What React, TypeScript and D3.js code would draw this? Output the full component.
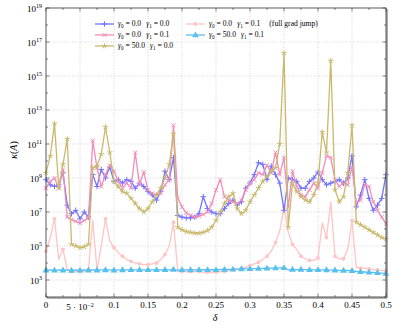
import * as d3 from "d3";
import { useEffect, useRef } from "react";

// delta grid, 81 points
const deltaValues = d3.range(81).map((i) => i * 0.00625);

// exponents (log10 of kappa(A))
const blueExp = [8.9,8.6,8.5,8.6,9.3,7.4,6.9,7.1,6.6,7.0,6.7,
  9.2,8.5,9.5,9.0,9.65,8.8,8.9,8.7,8.9,8.8,
  8.4,8.7,8.5,8.2,8.0,7.7,8.2,9.4,8.9,10.2,
  6.8,6.7,6.65,6.65,6.7,6.9,7.9,7.2,7.0,6.9,
  6.9,7.2,7.5,7.7,7.4,7.6,8.4,8.7,9.2,9.9,
  9.8,8.9,9.7,9.2,8.7,7.1,9.0,8.9,8.8,8.4,
  8.4,8.8,9.0,9.35,8.9,8.6,8.7,8.8,8.9,8.7,
  9.0,10.3,7.3,8.0,8.9,7.8,7.1,7.4,7.8,9.2];

const pinkExp = [8.4,8.8,9.0,8.4,9.5,6.7,6.55,6.45,6.35,6.5,6.65,
  11.2,9.6,8.5,9.2,9.75,9.4,8.8,8.4,8.7,8.4,
  10.5,8.6,9.35,8.3,8.1,8.0,8.1,8.6,8.9,12.1,
  7.8,7.3,6.95,6.8,6.7,6.75,6.85,7.0,7.5,8.3,
  8.9,7.9,7.7,7.6,7.5,7.7,8.3,8.7,8.9,9.3,
  9.2,9.75,9.3,10.5,9.2,10.2,7.3,9.4,8.5,8.0,
  7.9,8.3,8.7,8.4,9.3,10.3,10.2,8.9,8.5,8.7,
  8.6,9.65,7.5,7.7,8.6,8.5,7.6,7.1,6.7,6.3];

const oliveExp = [9.3,10.3,12.2,8.4,9.8,11.3,5.1,5.0,4.9,4.95,5.1,
  9.6,9.7,10.4,12.0,10.5,8.8,8.5,8.2,8.1,7.8,
  7.5,7.2,7.0,7.2,7.6,8.0,8.4,9.0,9.8,11.6,
  6.1,5.95,5.85,5.8,5.75,5.75,5.8,5.9,6.1,6.5,
  7.0,7.5,7.9,8.1,7.2,6.9,7.1,7.6,8.0,8.4,
  8.8,9.1,9.4,9.6,11.0,16.35,6.1,8.7,8.2,7.9,
  7.7,7.6,8.0,8.7,11.7,10.5,15.9,8.3,7.6,7.9,
  9.3,12.1,6.4,6.25,6.1,5.95,5.8,5.65,5.5,5.4];

const lightExp = [4.7,5.5,6.6,4.2,4.8,3.6,3.5,3.5,3.5,3.5,3.6,
  6.5,3.6,5.0,6.6,5.3,4.9,4.6,4.4,4.2,4.1,
  4.0,3.95,3.9,3.9,3.95,4.0,4.2,4.5,5.0,6.4,
  3.5,3.5,3.5,3.5,3.5,3.5,3.45,3.45,3.45,3.45,
  3.5,3.5,3.55,3.6,3.65,3.7,3.75,3.85,3.95,4.05,
  4.2,4.4,4.7,5.2,5.9,7.3,5.8,5.1,4.8,4.4,
  4.25,4.15,4.15,4.3,6.35,5.5,7.6,4.4,4.25,4.25,
  4.8,6.5,3.75,3.7,3.7,3.65,3.6,3.6,3.55,3.55];

const cyanExp = [3.58,3.6,3.57,3.6,3.58,3.6,3.56,3.6,3.57,3.6,3.58,
  3.6,3.58,3.6,3.59,3.6,3.58,3.6,3.59,3.6,3.6,
  3.59,3.6,3.6,3.6,3.59,3.6,3.6,3.61,3.6,3.62,
  3.58,3.6,3.6,3.59,3.6,3.6,3.61,3.6,3.61,3.6,
  3.62,3.62,3.63,3.63,3.64,3.65,3.65,3.66,3.67,3.67,
  3.68,3.69,3.7,3.7,3.71,3.72,3.6,3.62,3.61,3.62,
  3.61,3.6,3.6,3.6,3.6,3.59,3.58,3.58,3.57,3.56,
  3.56,3.55,3.5,3.48,3.47,3.45,3.44,3.42,3.4,3.38];

const xTicks = [0, 0.05, 0.1, 0.15, 0.2, 0.25, 0.3, 0.35, 0.4, 0.45, 0.5];
const xTickLabels = ["0", "5·10-2", "0.1", "0.15", "0.2", "0.25", "0.3", "0.35", "0.4", "0.45", "0.5"];
const yTickExps = [3, 5, 7, 9, 11, 13, 15, 17, 19];

const series = [
  { key: "light", exp: lightExp, color: "#ffc4c4", mark: "circle", every: 2, g0: "0.0", g1: "0.1", extra: "(full grad jump)" },
  { key: "blue", exp: blueExp, color: "#7373ff", mark: "plus", every: 1, g0: "0.0", g1: "0.0", extra: "" },
  { key: "pink", exp: pinkExp, color: "#f28cb8", mark: "cross", every: 1, g0: "0.0", g1: "0.1", extra: "" },
  { key: "olive", exp: oliveExp, color: "#c9b96c", mark: "star", every: 1, g0: "50.0", g1: "0.0", extra: "" },
  { key: "cyan", exp: cyanExp, color: "#58bfee", mark: "triangle", every: 2, g0: "50.0", g1: "0.1", extra: "" },
];

const FONT = "'Liberation Serif', 'DejaVu Serif', serif";

const drawMark = (g: any, type: string, x: number, y: number, c: string) => {
  if (type === "plus") {
    g.append("path").attr("d", `M${x - 2.8},${y}H${x + 2.8}M${x},${y - 2.8}V${y + 2.8}`)
      .attr("stroke", c).attr("stroke-width", 1);
  } else if (type === "cross") {
    g.append("path").attr("d", `M${x - 2},${y - 2}L${x + 2},${y + 2}M${x - 2},${y + 2}L${x + 2},${y - 2}`)
      .attr("stroke", c).attr("stroke-width", 1);
  } else if (type === "star") {
    let d = "";
    for (let k = 0; k < 5; k++) {
      const a = -Math.PI / 2 + (k * 2 * Math.PI) / 5;
      d += `M${x},${y}L${x + 2.8 * Math.cos(a)},${y + 2.8 * Math.sin(a)}`;
    }
    g.append("path").attr("d", d).attr("stroke", c).attr("stroke-width", 1);
  } else if (type === "circle") {
    g.append("circle").attr("cx", x).attr("cy", y).attr("r", 1.9).attr("fill", c);
  } else {
    g.append("path").attr("d", d3.symbol().type(d3.symbolTriangle).size(20)())
      .attr("transform", `translate(${x},${y + 0.3})`).attr("fill", c);
  }
};

const App = () => {
  const ref = useRef<SVGSVGElement>(null);

  useEffect(() => {
    const svg = d3.select(ref.current);
    svg.selectAll("*").remove();

    const left = 46, right = 386, top = 8, bottom = 297;
    const x = d3.scaleLinear().domain([0, 0.5]).range([left, right]);
    const y = d3.scaleLog().domain([1e2, 1e19]).range([bottom, top]);

    svg.append("rect").attr("width", 398).attr("height", 328).attr("fill", "#fff");

    // сетка
    const grid = svg.append("g").attr("stroke", "#bbb").attr("stroke-width", 0.6).attr("stroke-dasharray", "1,1.6");
    xTicks.slice(1, -1).forEach((t) => {
      grid.append("line").attr("x1", x(t)).attr("x2", x(t)).attr("y1", top).attr("y2", bottom);
    });
    yTickExps.slice(0, -1).forEach((e) => {
      grid.append("line").attr("x1", left).attr("x2", right).attr("y1", y(10 ** e)).attr("y2", y(10 ** e));
    });

    // линии и маркеры
    const plot = svg.append("g");
    series.forEach((s) => {
      const pts = s.exp.map((e, i) => [deltaValues[i], 10 ** e] as [number, number]);
      const line = d3.line<[number, number]>().x((d) => x(d[0])).y((d) => y(d[1]));
      plot.append("path").attr("d", line(pts)).attr("fill", "none")
        .attr("stroke", s.color).attr("stroke-width", 1.3).attr("stroke-linejoin", "round");
      pts.forEach((p, i) => {
        if (i % s.every === 0) drawMark(plot, s.mark, x(p[0]), y(p[1]), s.color);
      });
    });

    // рамка
    svg.append("line").attr("x1", right + 1).attr("x2", right + 1).attr("y1", top + 1).attr("y2", bottom + 1)
      .attr("stroke", "#999").attr("stroke-width", 1.6);
    svg.append("line").attr("x1", left + 1).attr("x2", right + 1).attr("y1", bottom + 1).attr("y2", bottom + 1)
      .attr("stroke", "#999").attr("stroke-width", 1.6);
    svg.append("rect").attr("x", left).attr("y", top).attr("width", right - left).attr("height", bottom - top)
      .attr("fill", "none").attr("stroke", "#333").attr("stroke-width", 0.8);

    // засечки
    const ticks = svg.append("g").attr("stroke", "#333").attr("stroke-width", 0.6);
    d3.range(0, 21).forEach((k) => {
      const t = k * 0.025;
      const len = k % 2 === 0 ? 3.5 : 2;
      ticks.append("line").attr("x1", x(t)).attr("x2", x(t)).attr("y1", bottom).attr("y2", bottom - len);
      ticks.append("line").attr("x1", x(t)).attr("x2", x(t)).attr("y1", top).attr("y2", top + len);
    });
    d3.range(2, 20).forEach((e) => {
      const len = e % 2 === 1 ? 3.5 : 2;
      ticks.append("line").attr("x1", left).attr("x2", left + len).attr("y1", y(10 ** e)).attr("y2", y(10 ** e));
      ticks.append("line").attr("x1", right).attr("x2", right - len).attr("y1", y(10 ** e)).attr("y2", y(10 ** e));
    });

    // подписи оси X
    xTicks.forEach((t, i) => {
      const label = xTickLabels[i];
      const txt = svg.append("text").attr("x", x(t)).attr("y", 308).attr("text-anchor", "middle")
        .attr("font-family", FONT).attr("font-size", 9).attr("fill", "#000");
      if (label.includes("·")) {
        txt.attr("y", 310);
        txt.append("tspan").text("5 · 10");
        txt.append("tspan").attr("dy", -3.5).attr("font-size", 6).text("−2");
      } else {
        txt.text(label);
      }
    });

    // подписи оси Y
    yTickExps.forEach((e) => {
      const txt = svg.append("text").attr("x", 42).attr("y", y(10 ** e) + 3.5).attr("text-anchor", "end")
        .attr("font-family", FONT).attr("font-size", 9).attr("fill", "#000");
      txt.append("tspan").text("10");
      txt.append("tspan").attr("dy", -4).attr("font-size", 6).text(String(e));
    });

    // названия осей
    svg.append("text").attr("x", 215).attr("y", 321).attr("text-anchor", "middle")
      .attr("font-family", FONT).attr("font-style", "italic").attr("font-size", 10).text("δ");
    const yl = svg.append("text").attr("transform", "translate(17,150) rotate(-90)").attr("text-anchor", "middle")
      .attr("font-family", FONT).attr("font-size", 10);
    yl.append("tspan").attr("font-style", "italic").text("κ");
    yl.append("tspan").text("(");
    yl.append("tspan").attr("font-style", "italic").text("A");
    yl.append("tspan").text(")");

    // легенда
    const legendOrder = ["blue", "pink", "olive", "light", "cyan"];
    const legendPos = [[95, 24], [95, 35], [95, 46], [186, 24], [186, 35]];
    legendOrder.forEach((k, i) => {
      const s = series.find((d) => d.key === k)!;
      const [lx, ly] = legendPos[i];
      const g = svg.append("g");
      g.append("line").attr("x1", lx).attr("x2", lx + 19).attr("y1", ly).attr("y2", ly)
        .attr("stroke", s.color).attr("stroke-width", 1.3);
      drawMark(g, s.mark, lx + 9.5, ly, s.color);
      const t = g.append("text").attr("x", lx + 23).attr("y", ly + 2.3).attr("font-family", FONT)
        .attr("font-size", 7.6).attr("fill", "#000");
      t.append("tspan").attr("font-style", "italic").text("γ");
      t.append("tspan").attr("font-size", 5.2).attr("dy", 1.4).text("0");
      t.append("tspan").attr("dy", -1.4).text(` = ${s.g0}`);
      t.append("tspan").attr("dx", 5).attr("font-style", "italic").text("γ");
      t.append("tspan").attr("font-size", 5.2).attr("dy", 1.4).text("1");
      t.append("tspan").attr("dy", -1.4).text(` = ${s.g1}`);
      if (s.extra) t.append("tspan").attr("dx", 9).text(s.extra);
    });
  }, []);

  return (
    <svg ref={ref} width={398} height={328} style={{ position: "absolute", left: 0, top: 0 }} />
  );
};

export default App;
